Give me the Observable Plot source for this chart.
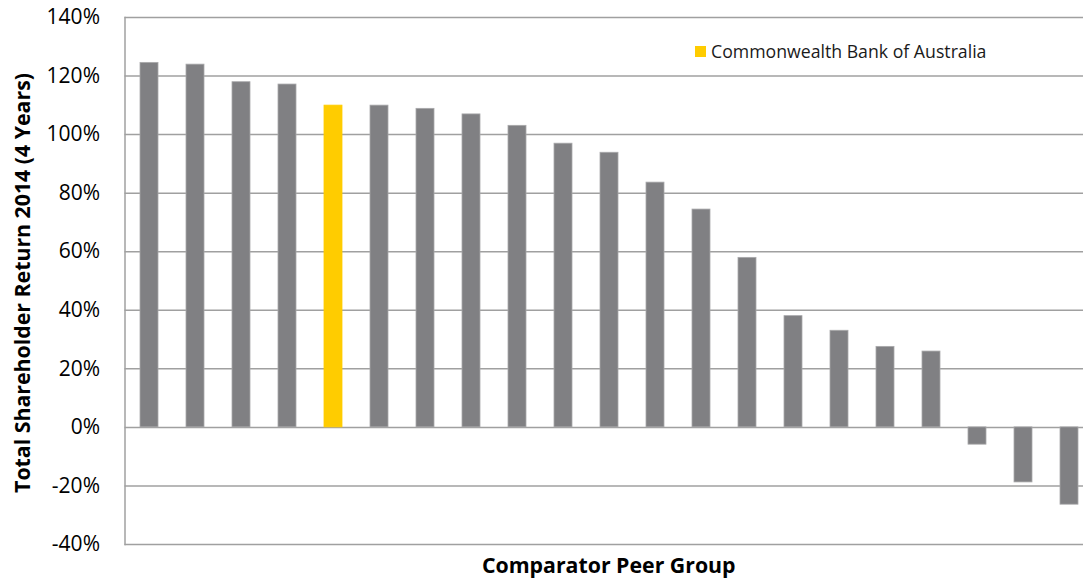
<!DOCTYPE html>
<html><head><meta charset="utf-8">
<script src="https://cdn.jsdelivr.net/npm/d3@7"></script>
<script src="https://cdn.jsdelivr.net/npm/@observablehq/plot@0.6"></script>
<style>
body{margin:0;background:#fff;}
#wrap{position:relative;width:1083px;height:579px;overflow:hidden;font-family:"Open Sans",Lato,sans-serif;}
#legend{position:absolute;left:695px;top:39px;font-size:17.7px;line-height:24px;color:#1a1a1a;display:flex;align-items:center;}
#legend .sw{display:inline-block;width:11px;height:11px;background:#FFCC00;margin-right:5px;}
</style></head><body>
<div id="wrap"><div id="legend"><span class="sw"></span>Commonwealth Bank of Australia</div></div>
<script>
const peers = ["P1","P2","P3","P4","P5","P6","P7","P8","P9","P10","P11","P12","P13","P14","P15","P16","P17","P18","P19","P20","P21"];
const returns = [124.5,123.9,117.9,117.1,109.9,109.9,108.8,106.9,103.0,96.9,93.8,83.6,74.4,57.9,38.0,33.0,27.5,25.9,-5.9,-18.8,-26.4];
const highlight = "P5"; // Commonwealth Bank of Australia
const yTicks = [-40,-20,0,20,40,60,80,100,120,140];
const yLabel = "Total Shareholder Return 2014 (4 Years)";
const xLabel = "Comparator Peer Group";

const data = peers.map((p,i)=>({peer:p, value:returns[i]}));
const left = 124.5, band = 46.17;
const chart = Plot.plot({
  width:1083, height:579,
  marginLeft:left, marginRight:0, marginTop:17, marginBottom:35,
  style:{fontFamily:"'Open Sans', Lato, sans-serif", fontSize:"21px", color:"#000", background:"transparent"},
  x:{type:"band", domain:peers, range:[left, left+peers.length*band], paddingInner:0.6, paddingOuter:0.3, axis:null},
  y:{domain:[-40,140], axis:null},
  marks:[
    Plot.ruleY(yTicks,{stroke:"#a0a0a0", strokeWidth:1.5}),
    Plot.frame({anchor:"left", stroke:"#a0a0a0", strokeWidth:1.5}),
    Plot.barY(data,{x:"peer", y:"value", fill:d=>d.peer===highlight?"#FFCC00":"#808083", stroke:d=>d.peer===highlight?"#FFCC00":"#a9a9ab", strokeWidth:0.8}),
    Plot.axisY(yTicks,{tickSize:0, tickPadding:25, tickFormat:d=>d+"%", fontSize:21, label:null}),
    Plot.text([yLabel],{frameAnchor:"left", rotate:-90, text:d=>d, fontWeight:"bold", fontSize:21.3, textAnchor:"middle", lineAnchor:"middle", dx:-102, dy:2, fill:"#000"}),
    Plot.text([xLabel],{frameAnchor:"bottom", text:d=>d, fontWeight:"bold", fontSize:21.3, textAnchor:"middle", lineAnchor:"middle", dx:4.5, dy:21.5, fill:"#000"})
  ]
});
document.getElementById("wrap").prepend(chart);
</script>
</body></html>
